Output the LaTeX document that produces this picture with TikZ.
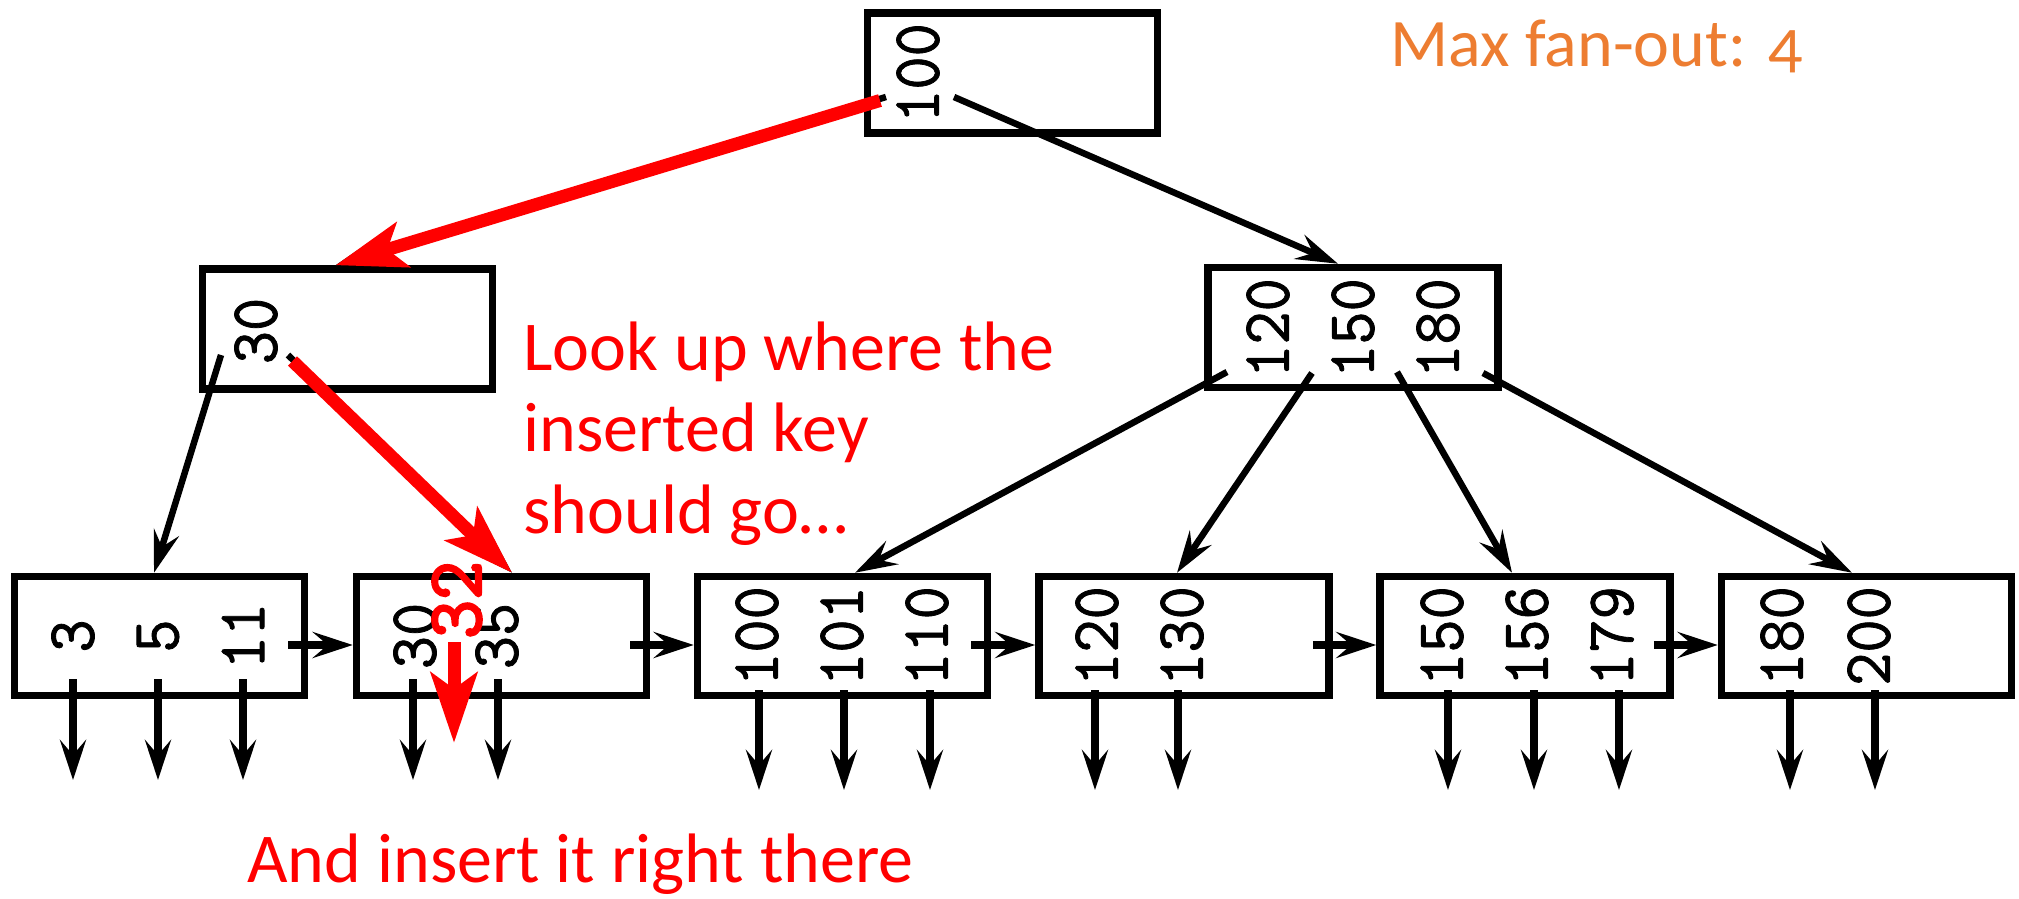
\documentclass[tikz,border=0pt]{standalone}
\usepackage{fontspec}
\usepackage{graphicx}
\usetikzlibrary{arrows.meta,calc}
\newfontfamily\calibri{Carlito}
\newfontfamily\calibrionum{Carlito}[Numbers={OldStyle,Proportional}]
\newfontfamily\keyfont{lmmono10-regular.otf}[FakeBold=1.2]
\newfontfamily\fatmono{lmmono10-regular.otf}[FakeBold=3]
\definecolor{fanorange}{RGB}{237,125,49}
\definecolor{hotred}{RGB}{255,0,0}
\newcommand\keyscale[1]{\scalebox{0.93}[1]{#1}}
\newcommand\newkeyscale[1]{\scalebox{0.95}[1]{#1}}
\begin{document}
\begin{tikzpicture}[x=0.5pt,y=-0.5pt,
  every node/.style={inner sep=0pt},
  bnode/.style={draw, line width=3.75pt, minimum width=145pt, minimum height=60pt},
  leafnode/.style={draw, line width=3.75pt, minimum width=145pt, minimum height=59.5pt},
  keytxt/.style={rotate=90, font=\keyfont\fontsize{34}{34}\selectfont},
  newkeytxt/.style={rotate=90, text=hotred, font=\fatmono\fontsize{39}{39}\selectfont},
  treelink/.style={line width=3.25pt, -{Stealth[length=21pt,width=13pt,inset=7.5pt]}},
  leafptr/.style={line width=4.25pt, -{Stealth[length=20pt,width=13pt,inset=7.5pt]}},
  redarrow/.style={draw=hotred, line width=6.5pt, -{Stealth[length=35pt,width=23pt,inset=8pt]}},
  rednote/.style={anchor=base west, text=hotred, font=\calibri\fontsize{35}{40}\selectfont},
  fannote/.style={anchor=base west, text=fanorange, font=\calibrionum\fontsize{34}{40}\selectfont}]
\path[use as bounding box, fill=white] (0,0) rectangle (2019,899);

% internal nodes
\node[bnode] (root) at (1012.5,73) {};
\node[keytxt] (k100) at (918,73) {\keyscale{100}};
\node[bnode] (L) at (347.5,329) {};
\node[keytxt] (k30) at (256,331) {\keyscale{30}};
\node[bnode] (R) at (1353,327.5) {};
\node[keytxt] (k120) at (1268,328) {\keyscale{120}};
\node[keytxt] (k150) at (1353,328) {\keyscale{150}};
\node[keytxt] (k180) at (1438,328) {\keyscale{180}};

% leaves
\node[leafnode] (leaf1) at (159.5,636) {};
\node[leafnode] (leaf2) at (501.5,636) {};
\node[leafnode] (leaf3) at (842.5,636) {};
\node[leafnode] (leaf4) at (1184,636) {};
\node[leafnode] (leaf5) at (1525,636) {};
\node[leafnode] (leaf6) at (1866.5,636) {};

\node[keytxt] (a3) at (73,636) {\keyscale{3}};
\node[keytxt] (a5) at (158,636) {\keyscale{5}};
\node[keytxt] (a11) at (243,636) {\keyscale{11}};
\node[keytxt] (b30) at (415,636) {\keyscale{30}};
\node[keytxt] (b35) at (497,636) {\keyscale{35}};
\node[keytxt] (c100) at (757,636) {\keyscale{100}};
\node[keytxt] (c101) at (842,636) {\keyscale{101}};
\node[keytxt] (c110) at (927,636) {\keyscale{110}};
\node[keytxt] (d120) at (1097,636) {\keyscale{120}};
\node[keytxt] (d130) at (1182,636) {\keyscale{130}};
\node[keytxt] (e150) at (1442,636) {\keyscale{150}};
\node[keytxt] (e156) at (1527,636) {\keyscale{156}};
\node[keytxt] (e179) at (1612,636) {\keyscale{179}};
\node[keytxt] (f180) at (1782,636) {\keyscale{180}};
\node[keytxt] (f200) at (1869,636) {\keyscale{200}};

% leaf pointers
\foreach \lf/\dx/\ya/\yb [count=\i] in {
  leaf1/-86.5/43/144, leaf1/-1.5/43/144, leaf1/83.5/43/144,
  leaf2/-88.5/43/144, leaf2/-3.5/43/144,
  leaf3/-83.5/54/154, leaf3/1.5/54/154, leaf3/87.5/54/154,
  leaf4/-89/54/154, leaf4/-6/54/154,
  leaf5/-77/54/154, leaf5/9/54/154, leaf5/94/54/154,
  leaf6/-76.5/54/154, leaf6/8.5/54/154} {
  \coordinate (pa\i) at ($(\lf.center)+(\dx,\ya)$);
  \coordinate (pb\i) at ($(\lf.center)+(\dx,\yb)$);
  \draw[leafptr] (pa\i) -- (pb\i);
}

% sibling pointers
\foreach \a/\b in {leaf1/leaf2, leaf2/leaf3, leaf3/leaf4, leaf4/leaf5, leaf5/leaf6} {
  \coordinate (ns\a) at ($(\a.east)+(-20,9)$);
  \coordinate (ne\a) at ($(\b.west)+(0,9)$);
  \draw[leafptr] (ns\a) -- (ne\a);
}

% tree link start points
\coordinate (rs1) at ($(root.center)+(-126.5,24)$);
\coordinate (rs2) at ($(root.center)+(-132.5,27.5)$);
\coordinate (rs3) at ($(root.center)+(-58.5,24)$);
\coordinate (ls1) at ($(L.center)+(-126.5,26)$);
\coordinate (ls2) at ($(L.center)+(-59.5,26)$);
\coordinate (ls3) at ($(L.center)+(-55,32)$);
\coordinate (qs1) at ($(R.center)+(-126,44.5)$);
\coordinate (qs2) at ($(R.center)+(-41,45.5)$);
\coordinate (qs3) at ($(R.center)+(44,44.5)$);
\coordinate (qs4) at ($(R.center)+(130,45.5)$);
% tips
\coordinate (tL) at ($(L.north)+(-12,0)$);
\coordinate (tR) at ($(R.north)+(-15,0)$);
\coordinate (t1) at ($(leaf1.north)+(-5.5,0)$);
\coordinate (t2) at ($(leaf2.north)+(10.5,0)$);
\coordinate (t3) at ($(leaf3.north)+(12.5,0)$);
\coordinate (t4) at ($(leaf4.north)+(-7,0)$);
\coordinate (t5) at ($(leaf5.north)+(-13,0)$);
\coordinate (t6) at ($(leaf6.north)+(-14.5,0)$);

\draw[treelink] (rs1) -- (tL);
\draw[treelink] (rs3) -- (tR);
\draw[treelink] (ls1) -- (t1);
\draw[treelink] (ls2) -- (t2);
\draw[treelink] (qs1) -- (t3);
\draw[treelink] (qs2) -- (t4);
\draw[treelink] (qs3) -- (t5);
\draw[treelink] (qs4) -- (t6);

% red search path
\draw[redarrow] (rs2) -- (tL);
\draw[redarrow] (ls3) -- (t2);
\coordinate (ra) at ($(leaf2.center)+(-47.5,6)$);
\coordinate (rb) at ($(leaf2.center)+(-47.5,107)$);
\draw[redarrow] (ra) -- (rb);
\node[newkeytxt] (n32) at (457,600) {\newkeyscale{32}};

% notes
\node[fannote] (fan) at (1390,67) {Max fan-out: 4};
\node[rednote] (look1) at (523,370) {Look up where the};
\node[rednote] (look2) at (523,451.5) {inserted key};
\node[rednote] (look3) at (523,533) {should go…};
\node[rednote] (ins) at (247,882) {And insert it right there};
\end{tikzpicture}
\end{document}
